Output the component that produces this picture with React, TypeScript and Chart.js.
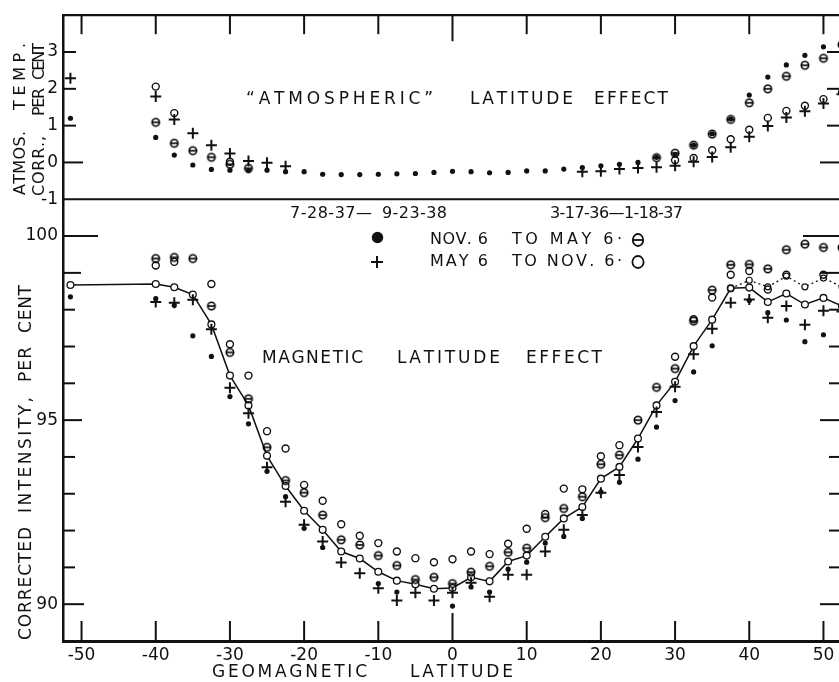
import React, { useEffect, useRef } from 'react';
import { Chart, registerables } from 'chart.js';

Chart.register(...registerables);

// ---------- data ----------
const LATITUDES = [
  -51.5, -40, -37.5, -35, -32.5, -30, -27.5, -25, -22.5, -20, -17.5, -15, -12.5, -10, -7.5, -5, -2.5, 0,
  2.5, 5, 7.5, 10, 12.5, 15, 17.5, 20, 22.5, 25, 27.5, 30, 32.5, 35, 37.5, 40, 42.5, 45, 47.5, 50, 52.5,
];

// magnetic latitude effect (corrected intensity, per cent)
const MEAN_CURVE = [
  98.67, 98.7, 98.61, 98.41, 97.6, 96.21, 95.4, 94.03, 93.21, 92.54, 92.02, 91.43, 91.24, 90.88, 90.64, 90.54, 90.42, 90.44,
  90.73, 90.62, 91.16, 91.32, 91.83, 92.33, 92.64, 93.41, 93.73, 94.5, 95.4, 96.04, 97.01, 97.73, 98.58, 98.6, 98.21, 98.44, 98.14, 98.32, 98.1,
];
const MEAN_CURVE_ALT = [
  null, null, null, null, null, null, null, null, null, null, null, null, null, null, null, null, null, null,
  null, null, null, null, null, null, null, null, null, null, null, null, null, null, 98.58, 98.8, 98.62, 98.91, 98.62, 98.86, 98.62,
];
const WINTER_3738 = [
  98.35, 98.3, 98.12, 97.29, 96.73, 95.64, 94.9, 93.61, 92.92, 92.06, 91.54, null, null, 90.56, 90.33, null, null, 89.95,
  90.47, 90.33, 90.95, 91.14, 91.66, 91.84, 92.33, 93.05, 93.31, 93.94, 94.81, 95.53, 96.31, 97.02, null, 98.25, 97.92, 97.72, 97.13, 97.32, 97.3,
];
const SUMMER_3738 = [
  null, 98.21, 98.19, 98.27, 97.47, 95.88, 95.19, 93.72, 92.78, 92.16, 91.7, 91.13, 90.84, 90.43, 90.1, 90.31, 90.1, 90.31,
  90.58, 90.2, 90.8, 90.8, 91.43, 92.02, 92.42, 93.03, 93.51, 94.27, 95.22, 95.91, 96.79, 97.48, 98.19, 98.28, 97.78, 98.1, 97.59, 97.97, 97.95,
];
const WINTER_3637 = [
  null, 99.39, 99.42, 99.39, 98.1, 96.84, 95.58, 94.26, 93.36, 93.03, 92.42, 91.75, 91.61, 91.32, 91.05, 90.67, 90.73, 90.56,
  90.87, 91.03, 91.41, 91.52, 92.35, 92.6, 92.92, 93.8, 94.05, 95.0, 95.89, 96.4, 97.69, 98.53, 99.22, 99.23, 99.11, 99.63, 99.78, 99.69, 99.69,
];
const SUMMER_3637 = [
  null, 99.2, 99.3, null, 98.7, 97.06, 96.21, 94.7, 94.23, 93.24, 92.81, 92.17, 91.86, 91.66, 91.43, 91.25, 91.14, 91.22,
  91.43, 91.36, 91.64, 92.05, 92.45, 93.14, 93.12, 94.02, 94.32, null, null, 96.72, 97.74, 98.33, 98.95, 99.05, 98.55, 98.95, null, 98.95, null,
];

// "atmospheric" latitude effect (atmos. temp. corr., per cent)
const ATM_WINTER_3738 = [
  1.2, 0.68, 0.2, -0.07, -0.19, -0.21, -0.22, -0.21, -0.25, -0.25, -0.32, -0.33, -0.33, -0.32, -0.31, -0.3, -0.27, -0.24,
  -0.25, -0.28, -0.27, -0.23, -0.23, -0.18, -0.14, -0.09, -0.05, 0.0, 0.14, 0.22, 0.47, 0.78, 1.18, 1.83, 2.32, 2.65, 2.91, 3.14, null,
];
const ATM_SUMMER_3738 = [
  2.29, 1.79, 1.17, 0.79, 0.47, 0.24, 0.04, -0.01, -0.1, null, null, null, null, null, null, null, null, null,
  null, null, null, null, null, null, -0.25, -0.24, -0.18, -0.15, -0.13, -0.09, 0.02, 0.15, 0.41, 0.7, 0.99, 1.22, 1.39, 1.6, 1.85,
];
const ATM_WINTER_3637 = [
  null, 1.09, 0.52, 0.32, 0.14, -0.05, -0.16, null, null, null, null, null, null, null, null, null, null, null,
  null, null, null, null, null, null, null, null, null, null, 0.13, 0.25, 0.47, 0.77, 1.17, 1.62, 2.0, 2.34, 2.64, 2.83, 3.2,
];
const ATM_SUMMER_3637 = [
  null, 2.06, 1.34, null, null, 0.02, null, null, null, null, null, null, null, null, null, null, null, null,
  null, null, null, null, null, null, null, null, null, null, null, 0.06, 0.12, 0.33, 0.63, 0.89, 1.21, 1.4, 1.54, 1.72, 1.9,
];

const X_TICKS = [-50, -40, -30, -20, -10, 0, 10, 20, 30, 40, 50];
const ATM_TICKS = [-1, 0, 1, 2, 3];
const INT_LABEL_TICKS = [90, 95, 100];
const INT_MINOR_TICKS = [90, 91, 92, 93, 94, 95, 96, 97, 98, 99, 100];

// ---------- helpers ----------
const FONT = '"DejaVu Sans", "Liberation Sans", sans-serif';
const INK = '#111111';

function toPoints(values: (number | null)[]) {
  return LATITUDES.map((x, i) => ({ x, y: values[i] })).filter((p) => p.y !== null);
}

function makeBarCircle(r: number, lw: number) {
  const c = document.createElement('canvas');
  const s = 12;
  c.width = s;
  c.height = s;
  const g = c.getContext('2d')!;
  g.strokeStyle = '#000';
  g.lineWidth = lw;
  g.beginPath();
  g.arc(s / 2, s / 2, r, 0, Math.PI * 2);
  g.stroke();
  g.beginPath();
  g.moveTo(s / 2 - r, s / 2);
  g.lineTo(s / 2 + r, s / 2);
  g.stroke();
  return c;
}

function drawSpaced(ctx: CanvasRenderingContext2D, text: string, x0: number, x1: number, y: number) {
  const chars = Array.from(text);
  const ws = chars.map((c) => ctx.measureText(c).width);
  const total = ws.reduce((a, b) => a + b, 0);
  const gap = chars.length > 1 ? (x1 - x0 - total) / (chars.length - 1) : 0;
  let x = x0;
  chars.forEach((c, i) => {
    ctx.fillText(c, x, y);
    x += ws[i] + gap;
  });
}

function drawSpacedV(ctx: CanvasRenderingContext2D, text: string, xc: number, yBottom: number, yTop: number) {
  ctx.save();
  ctx.translate(xc, yBottom);
  ctx.rotate(-Math.PI / 2);
  drawSpaced(ctx, text, 0, yBottom - yTop, 0);
  ctx.restore();
}

const framePlugin = {
  id: 'frameAndText',
  afterDraw(chart: any) {
    const { ctx, chartArea: ca } = chart;
    const xs = chart.scales.x;
    const yT = chart.scales.yTop;
    const yB = chart.scales.yBot;
    ctx.save();
    ctx.strokeStyle = INK;
    ctx.lineCap = 'butt';
    const line = (x0: number, y0: number, x1: number, y1: number, w: number) => {
      ctx.lineWidth = w;
      ctx.beginPath();
      ctx.moveTo(x0, y0);
      ctx.lineTo(x1, y1);
      ctx.stroke();
    };
    // frame
    line(ca.left - 1, yT.top, ca.right, yT.top, 2.2);
    line(ca.left, yT.bottom, ca.right, yT.bottom, 2.2);
    line(ca.right, yT.top, ca.right, yB.bottom, 2.2);
    // x ticks (inside, top and bottom)
    X_TICKS.forEach((v) => {
      const px = xs.getPixelForValue(v);
      line(px, yT.top, px, yT.top + (v === 0 ? 26 : 19), 2);
      line(px, yB.bottom, px, yB.bottom - (v === 0 ? 28 : 20), 2);
    });
    // atmospheric panel ticks
    ATM_TICKS.filter((v) => v > -1).forEach((v) => {
      const py = yT.getPixelForValue(v);
      const len = v === 0 ? 20 : 13;
      line(ca.left, py, ca.left + len, py, 2);
      line(ca.right, py, ca.right - len - 2, py, 2);
    });
    // intensity panel ticks
    INT_MINOR_TICKS.forEach((v) => {
      const py = yB.getPixelForValue(v);
      let l = 12;
      let r = 13;
      if (v === 100) { l = 35; r = 39; }
      else if (v === 99) { l = 18; r = 22; }
      else if (v === 95) { l = 19; r = 22; }
      else if (v === 90) { l = 21; r = 22; }
      line(ca.left, py, ca.left + l, py, 2);
      line(ca.right, py, ca.right - r, py, 2);
    });

    // text
    ctx.fillStyle = INK;
    ctx.textBaseline = 'middle';
    ctx.textAlign = 'left';
    ctx.font = `17px ${FONT}`;
    drawSpaced(ctx, '\u201CATMOSPHERIC\u201D', 246, 433, 100);
    drawSpaced(ctx, 'LATITUDE', 470, 573, 100);
    drawSpaced(ctx, 'EFFECT', 594, 668, 100);
    drawSpaced(ctx, 'MAGNETIC', 262, 363, 359);
    drawSpaced(ctx, 'LATITUDE', 397, 500, 359);
    drawSpaced(ctx, 'EFFECT', 526, 602, 359);
    drawSpaced(ctx, 'GEOMAGNETIC', 212, 367, 673);
    drawSpaced(ctx, 'LATITUDE', 410, 513, 673);

    ctx.font = `16px ${FONT}`;
    drawSpaced(ctx, '7-28-37\u2014', 290, 372, 214);
    drawSpaced(ctx, '9-23-38', 382, 447, 214);
    drawSpaced(ctx, '3-17-36\u20141-18-37', 550, 683, 214);
    drawSpaced(ctx, 'NOV. 6', 430, 488, 240);
    drawSpaced(ctx, 'TO MAY 6\u00B7', 512, 622, 240);
    drawSpaced(ctx, 'MAY 6', 430, 488, 262);
    drawSpaced(ctx, 'TO NOV. 6\u00B7', 512, 622, 262);

    // legend symbols
    ctx.beginPath();
    ctx.arc(377.5, 237.5, 5.7, 0, Math.PI * 2);
    ctx.fill();
    line(371, 262, 383, 262, 2);
    line(377, 256, 377, 268, 2);
    ctx.lineWidth = 1.8;
    ctx.beginPath();
    ctx.ellipse(638, 240, 5.2, 6, 0, 0, Math.PI * 2);
    ctx.stroke();
    line(633, 240, 643, 240, 1.8);
    ctx.lineWidth = 1.8;
    ctx.beginPath();
    ctx.ellipse(638, 262, 5.6, 6, 0, 0, Math.PI * 2);
    ctx.stroke();

    // axis titles (rotated)
    ctx.font = `17px ${FONT}`;
    drawSpacedV(ctx, 'CORRECTED', 27, 640, 527);
    drawSpacedV(ctx, 'INTENSITY,', 27, 513, 397);
    drawSpacedV(ctx, 'PER', 27, 382, 347);
    drawSpacedV(ctx, 'CENT', 27, 333, 285);
    ctx.font = `16px ${FONT}`;
    drawSpacedV(ctx, 'ATMOS.', 21, 195, 131);
    drawSpacedV(ctx, 'TEMP.', 21, 110, 43);
    drawSpacedV(ctx, 'CORR.,', 40, 196, 136);
    drawSpacedV(ctx, 'PER', 40, 116, 88);
    drawSpacedV(ctx, 'CENT', 40, 80, 43);
    ctx.restore();
  },
};

export default function App() {
  const ref = useRef<HTMLCanvasElement | null>(null);

  useEffect(() => {
    if (!ref.current) return;
    const barCircle = makeBarCircle(3.7, 1.6);
    const tickFont = { family: FONT, size: 17 };

    const chart = new Chart(ref.current, {
      type: 'scatter',
      data: {
        datasets: [
          {
            label: 'mean curve',
            data: toPoints(MEAN_CURVE),
            yAxisID: 'yBot',
            showLine: true,
            borderColor: INK,
            borderWidth: 1.5,
            pointStyle: 'circle',
            pointRadius: 3.4,
            pointBorderWidth: 1.3,
            pointBorderColor: INK,
            pointBackgroundColor: '#ffffff',
            order: 10,
          },
          {
            label: 'alt curve',
            data: toPoints(MEAN_CURVE_ALT),
            yAxisID: 'yBot',
            showLine: true,
            borderColor: INK,
            borderWidth: 1.3,
            borderDash: [2, 3],
            pointStyle: 'circle',
            pointRadius: 3,
            pointBorderWidth: 1.2,
            pointBorderColor: INK,
            pointBackgroundColor: '#ffffff',
            order: 9,
          },
          {
            label: 'Nov 6 to May 6 (1937-38)',
            data: toPoints(WINTER_3738),
            yAxisID: 'yBot',
            pointStyle: 'circle',
            pointRadius: 2.6,
            pointBorderWidth: 0,
            pointBackgroundColor: INK,
          },
          {
            label: 'May 6 to Nov 6 (1937-38)',
            data: toPoints(SUMMER_3738),
            yAxisID: 'yBot',
            pointStyle: 'cross',
            pointRadius: 5.5,
            pointBorderWidth: 2,
            pointBorderColor: INK,
          },
          {
            label: 'Nov 6 to May 6 (1936-37)',
            data: toPoints(WINTER_3637),
            yAxisID: 'yBot',
            pointStyle: barCircle,
          },
          {
            label: 'May 6 to Nov 6 (1936-37)',
            data: toPoints(SUMMER_3637),
            yAxisID: 'yBot',
            pointStyle: 'circle',
            pointRadius: 3.5,
            pointBorderWidth: 1.4,
            pointBorderColor: INK,
            pointBackgroundColor: 'rgba(0,0,0,0)',
          },
          {
            label: 'atm Nov-May 37-38',
            data: toPoints(ATM_WINTER_3738),
            yAxisID: 'yTop',
            pointStyle: 'circle',
            pointRadius: 2.6,
            pointBorderWidth: 0,
            pointBackgroundColor: INK,
          },
          {
            label: 'atm May-Nov 37-38',
            data: toPoints(ATM_SUMMER_3738),
            yAxisID: 'yTop',
            pointStyle: 'cross',
            pointRadius: 5.5,
            pointBorderWidth: 2,
            pointBorderColor: INK,
          },
          {
            label: 'atm Nov-May 36-37',
            data: toPoints(ATM_WINTER_3637),
            yAxisID: 'yTop',
            pointStyle: barCircle,
          },
          {
            label: 'atm May-Nov 36-37',
            data: toPoints(ATM_SUMMER_3637),
            yAxisID: 'yTop',
            pointStyle: 'circle',
            pointRadius: 3.5,
            pointBorderWidth: 1.4,
            pointBorderColor: INK,
            pointBackgroundColor: 'rgba(0,0,0,0)',
          },
        ],
      },
      options: {
        responsive: false,
        animation: false,
        devicePixelRatio: 1,
        layout: { padding: { top: 12, right: 8, left: 0, bottom: 0 } },
        plugins: { legend: { display: false }, tooltip: { enabled: false }, title: { display: false } },
        scales: {
          x: {
            type: 'linear',
            position: 'bottom',
            min: -52.5,
            max: 52.5,
            afterBuildTicks: (s: any) => { s.ticks = X_TICKS.map((v) => ({ value: v })); },
            afterFit: (s: any) => { s.height = 41; },
            grid: { display: false, drawTicks: false },
            border: { display: true, color: INK, width: 3 },
            ticks: { color: INK, font: tickFont, padding: 4, maxRotation: 0, autoSkip: false, includeBounds: false },
          },
          yBot: {
            type: 'linear',
            position: 'left',
            stack: 'panels',
            stackWeight: 12,
            min: 89,
            max: 101,
            afterBuildTicks: (s: any) => { s.ticks = INT_LABEL_TICKS.map((v) => ({ value: v })); },
            afterFit: (s: any) => { s.width = 63; },
            grid: { display: false, drawTicks: false },
            border: { display: true, color: INK, width: 2.5 },
            ticks: { color: INK, font: tickFont, padding: 5 },
          },
          yTop: {
            type: 'linear',
            position: 'left',
            stack: 'panels',
            stackWeight: 5,
            min: -1,
            max: 4,
            afterBuildTicks: (s: any) => { s.ticks = ATM_TICKS.map((v) => ({ value: v })); },
            afterFit: (s: any) => { s.width = 63; },
            grid: { display: false, drawTicks: false },
            border: { display: true, color: INK, width: 2.5 },
            ticks: { color: INK, font: tickFont, padding: 5 },
          },
        },
      } as any,
      plugins: [framePlugin],
    });
    return () => chart.destroy();
  }, []);

  return (
    <div
      style={{
        position: 'fixed',
        left: 0,
        top: 0,
        width: 839,
        height: 682,
        overflow: 'hidden',
        background: '#ffffff',
      }}
    >
      <canvas ref={ref} width={850} height={682} style={{ width: 850, height: 682, display: 'block' }} />
    </div>
  );
}
